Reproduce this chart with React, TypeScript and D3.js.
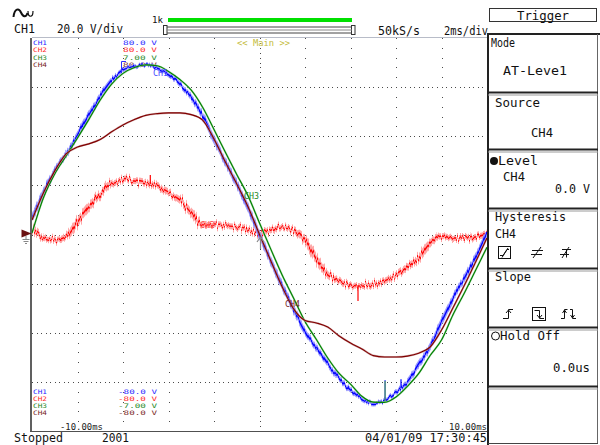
import React from 'react';
import * as d3 from 'd3';

// sample times (ms), 0.5 ms apart, -10 .. 10
const TIME_MS = [-10, -9.5, -9, -8.5, -8, -7.5, -7, -6.5, -6, -5.5, -5, -4.5, -4, -3.5, -3, -2.5, -2, -1.5, -1, -0.5, 0,
  0.5, 1, 1.5, 2, 2.5, 3, 3.5, 4, 4.5, 5, 5.5, 6, 6.5, 7, 7.5, 8, 8.5, 9, 9.5, 10];

// channel readings in volts
const CH1_V = [6.7, 16.9, 25.9, 32.8, 40.5, 48.7, 56.4, 62.9, 67.0, 68.4, 69.0, 67.7, 65.4, 61.2, 55.8, 48.1, 38.5, 29.5, 20.6, 10.8, -0.2,
  -10.8, -21.0, -30.3, -39.3, -46.2, -52.9, -58.7, -63.3, -66.8, -68.8, -67.4, -64.3, -59.9, -53.0, -45.2, -35.6, -26.0, -17.8, -9.2, 0.6];
const CH2_V = [2.6, -1.4, -2.2, -1.0, 5.1, 11.2, 16.5, 21.0, 22.0, 21.8, 21.0, 19.3, 16.9, 14.1, 9.2, 3.9, 3.9, 3.5, 3.1, 1.8, 0.6,
  1.8, 3.1, 1.8, -2.2, -10.0, -16.1, -18.9, -20.6, -21.0, -20.2, -18.9, -16.5, -13.2, -9.6, -3.5, -0.6, -1.4, -1.4, -1.0, 0.2];
const CH3_V = [0.05, 1.30, 2.16, 2.80, 3.44, 4.10, 4.79, 5.36, 5.74, 5.95, 6.04, 6.01, 5.81, 5.52, 5.14, 4.53, 3.74, 2.93, 2.14, 1.37, 0.41,
  -0.53, -1.45, -2.27, -3.10, -3.74, -4.40, -4.95, -5.33, -5.76, -5.97, -5.98, -5.79, -5.41, -4.95, -4.31, -3.76, -2.87, -2.09, -1.27, -0.45];
const CH4_V = [5.9, 16.9, 25.9, 32.8, 35.6, 36.9, 38.7, 41.8, 44.6, 46.8, 48.5, 49.2, 49.5, 49.5, 48.8, 46.6, 38.9, 29.5, 20.6, 11.2, 0,
  -10.8, -21.4, -30.3, -35.0, -36.0, -37.7, -41.3, -44.2, -46.6, -49.3, -49.9, -49.9, -49.5, -48.3, -45.8, -38.9, -29.9, -20.8, -11.2, -1.4];

// glitches: channel index, time ms, base volts, peak volts
const SPIKE_CH = [1, 1, 0, 0, 2];
const SPIKE_T = [-4.8, 4.33, 5.52, 6.22, 5.52];
const SPIKE_FROM = [20.6, -20.8, -67.4, -62.5, -5.98];
const SPIKE_TO = [24.2, -27.1, -59.3, -58.9, -5.22];

const CHANNELS = ['CH1', 'CH2', 'CH3', 'CH4'];
const VOLTS_PER_DIV = [20, 20, 1.75, 20];
const TOP_LIMITS = ['80.0 V', '80.0 V', '7.00 V', '80.0 V'];
const BOTTOM_LIMITS = ['-80.0 V', '-80.0 V', '-7.00 V', '-80.0 V'];
const TIME_LABELS = ['-10.00ms', '10.00ms'];
const TIME_DOMAIN = [-10, 10];
const DIVS_X = 10;
const DIVS_Y = 8;

const COLORS = ['#0000ff', '#ff0000', '#008000', '#800000'];
const HALOS = ['#8a8aff', '#ff8a8a', '#9ad09a', '#c89a9a'];
const LABEL_COLORS = ['#2828ff', '#ff2828', '#1f8a1f', '#7a1f1f'];

const MONO = "'DejaVu Sans Mono', 'Liberation Mono', monospace";

function Txt(p: { x: number; y: number; s: string; size?: number; fill?: string; len?: number; anchor?: string; weight?: any }) {
  return (
    <text x={p.x} y={p.y} fontFamily={MONO} fontSize={p.size ?? 12} fill={p.fill ?? '#111'}
      textAnchor={p.anchor as any} fontWeight={p.weight}
      {...(p.len ? { textLength: p.len, lengthAdjust: 'spacingAndGlyphs' } : {})}>{p.s}</text>
  );
}

export default function App() {
  const W = 600, H = 445;
  const L = 32, R = 487, T = 38, B = 431;
  const x = d3.scaleLinear().domain(TIME_DOMAIN).range([L, R]);
  const yScales = VOLTS_PER_DIV.map(v => d3.scaleLinear().domain([-4 * v, 4 * v]).range([B, T]));
  const series = [CH1_V, CH2_V, CH3_V, CH4_V];
  const paths = series.map((vals, i) =>
    d3.line<number>().x((_, k) => x(TIME_MS[k])).y(d => yScales[i](d)).curve(d3.curveMonotoneX)(vals) as string);

  const dx = (TIME_DOMAIN[1] - TIME_DOMAIN[0]) / DIVS_X;
  const gridX = d3.range(1, DIVS_X).map(i => x(TIME_DOMAIN[0] + dx * i));
  const gridY = d3.range(1, DIVS_Y).map(j => yScales[0](-80 + 20 * j));
  const divW = (R - L) / DIVS_X;
  const divH = (B - T) / DIVS_Y;

  const sepYs = [92.5, 149.5, 208.5, 268.5, 327.5, 386.5];
  const order = [1, 0, 2, 3];
  const haloW = [4, 6, 2, 2];
  const haloOp = [0.85, 0.75, 0.7, 0.8];
  const lineW = [1.4, 1.4, 1.15, 1.1];
  const filt = ['url(#jitBlue)', 'url(#jitRed)', undefined, undefined];
  const small = 6.2;
  const step = 7.3;

  return (
    <svg width={W} height={H} viewBox={`0 0 ${W} ${H}`} style={{ position: 'absolute', left: 0, top: 0, background: '#fff' }}>
      <defs>
        <clipPath id="plotClip"><rect x={L} y={T} width={R - L} height={B - T} /></clipPath>
        <filter id="jitRed" x="-0.02" y="-0.3" width="1.04" height="1.6" colorInterpolationFilters="sRGB">
          <feTurbulence type="fractalNoise" baseFrequency="0.75 0.004" numOctaves={2} seed={4} result="n" />
          <feColorMatrix in="n" type="matrix" values="0 0 0 0 0.5  0 1 0 0 0  0 0 0 0 0  0 0 0 0 1" result="m" />
          <feDisplacementMap in="SourceGraphic" in2="m" scale={14} xChannelSelector="R" yChannelSelector="G" />
        </filter>
        <filter id="jitBlue" x="-0.02" y="-0.1" width="1.04" height="1.2" colorInterpolationFilters="sRGB">
          <feTurbulence type="fractalNoise" baseFrequency="0.6 0.004" numOctaves={2} seed={9} result="n" />
          <feColorMatrix in="n" type="matrix" values="0 0 0 0 0.5  0 1 0 0 0  0 0 0 0 0  0 0 0 0 1" result="m" />
          <feDisplacementMap in="SourceGraphic" in2="m" scale={6} xChannelSelector="R" yChannelSelector="G" />
        </filter>
      </defs>
      <rect x={0} y={0} width={W} height={H} fill="#fff" />

      {/* top header */}
      <path d="M13.5,17 C14.5,8 19,8 21,12.5 C23,17 26,18 27.5,13" fill="none" stroke="#111" strokeWidth={2} />
      <path d="M28,11 C28,18 33,18 33,11" fill="none" stroke="#111" strokeWidth={1.2} />
      <Txt x={14} y={33} s="CH1" size={13} len={21} />
      <Txt x={57} y={33} s="20.0 V/div" size={12} len={66} />
      <Txt x={152} y={23} s="1k" size={9} len={11} />
      <rect x={168} y={18} width={184} height={4} fill="#00e000" />
      <rect x={163.5} y={25.5} width={3.5} height={9} fill="none" stroke="#333" />
      <rect x={351.5} y={25.5} width={3.5} height={9} fill="none" stroke="#333" />
      <line x1={167} x2={352} y1={27} y2={27} stroke="#444" />
      <line x1={167} x2={352} y1={30} y2={30} stroke="#888" />
      <line x1={167} x2={352} y1={33} y2={33} stroke="#444" />
      <Txt x={378} y={35} s="50kS/s" size={12} len={42} />
      <Txt x={444} y={35} s="2ms/div" size={12} len={44} />

      {/* plot frame */}
      <line x1={L} x2={R} y1={T - 0.5} y2={T - 0.5} stroke="#b8bcc8" />
      <line x1={L - 1} x2={L - 1} y1={T} y2={B} stroke="#606060" strokeWidth={2} />
      <line x1={L - 2} x2={R} y1={B + 0.5} y2={B + 0.5} stroke="#505050" />

      {/* grid */}
      <g shapeRendering="crispEdges" stroke="#4a4a4a">
        {gridY.map((gy, j) => (
          <line key={'h' + j} x1={L} x2={R} y1={Math.round(gy) + 0.5} y2={Math.round(gy) + 0.5}
            strokeDasharray={`1 ${divW / 10 - 1}`} />
        ))}
        {gridX.map((gx, i) => (
          <line key={'v' + i} x1={Math.round(gx) + 0.5} x2={Math.round(gx) + 0.5} y1={T} y2={B}
            strokeDasharray={i === 4 ? `1 ${divH / 10 - 1}` : `1 ${divH / 5 - 1}`} />
        ))}
      </g>

      {/* channel offset labels */}
      {CHANNELS.map((c, i) => (
        <g key={'lbl' + i}>
          <Txt x={33} y={45 + i * step} s={c} size={small} fill={LABEL_COLORS[i]} len={14} />
          <Txt x={123} y={45 + i * step} s={TOP_LIMITS[i]} size={small} fill={LABEL_COLORS[i]} len={34} />
          <Txt x={33} y={393.5 + i * step} s={c} size={small} fill={LABEL_COLORS[i]} len={14} />
          <Txt x={118} y={393.5 + i * step} s={BOTTOM_LIMITS[i]} size={small} fill={LABEL_COLORS[i]} len={39} />
        </g>
      ))}
      <Txt x={237} y={45.6} s="<< Main >>" size={9} fill="#c4bc3c" len={53} />
      <Txt x={60} y={430} s={TIME_LABELS[0]} size={8.5} fill="#222" len={43} />
      <Txt x={449} y={430} s={TIME_LABELS[1]} size={8.5} fill="#222" len={38} />

      {/* traces */}
      <g clipPath="url(#plotClip)" fill="none" strokeLinejoin="round">
        {order.map(i => (
          <g key={'tr' + i}>
            <path d={paths[i]} stroke={HALOS[i]} strokeWidth={haloW[i]} opacity={haloOp[i]} filter={filt[i]} />
            <path d={paths[i]} stroke={COLORS[i]} strokeWidth={lineW[i]} filter={filt[i]} />
          </g>
        ))}
        {SPIKE_CH.map((c, k) => (
          <line key={'sp' + k} x1={x(SPIKE_T[k])} x2={x(SPIKE_T[k])} y1={yScales[c](SPIKE_FROM[k])} y2={yScales[c](SPIKE_TO[k])}
            stroke={c === 2 ? '#60b060' : COLORS[c]} strokeWidth={1.2} />
        ))}
      </g>

      {/* trace markers */}
      <Txt x={153} y={76} s="CH1" size={9} fill="#4848ff" len={15} />
      <Txt x={200} y={228} s="CH2" size={9} fill="#ff5050" len={15} />
      <Txt x={244} y={199} s="CH3" size={9} fill="#1f8a1f" len={15} />
      <Txt x={285} y={307} s="CH4" size={9} fill="#7a1f1f" len={15} />
      <path d="M126,61.5 L121.5,61.5 L121.5,72" fill="none" stroke="#3030ff" />
      <path d="M257,242 L260.5,237 L264,242 M260.5,237 L260.5,249" fill="none" stroke="#888" strokeWidth={1.2} />
      <path d="M21.5,229.5 L31.5,233.5 L21.5,237.5 Z" fill="#6a1010" />
      <path d="M26,236 L26,239 M22.5,239.5 L29.5,239.5 M23.5,241.5 L28.5,241.5 M25,243.5 L27,243.5" stroke="#888" />

      {/* status line */}
      <Txt x={14} y={442} s="Stopped" size={12} len={49} />
      <Txt x={102} y={442} s="2001" size={12} len={27} />
      <Txt x={365} y={442} s="04/01/09 17:30:45" size={12} len={122} />

      {/* right panel */}
      <rect x={489.5} y={8.5} width={107} height={13} fill="none" stroke="#333" />
      <Txt x={517} y={19.5} s="Trigger" size={12} len={52} />
      <line x1={488} x2={600} y1={34} y2={34} stroke="#222" strokeWidth={2} />
      <line x1={488} x2={488} y1={33} y2={445} stroke="#222" strokeWidth={2} />
      <line x1={597.5} x2={597.5} y1={34} y2={444} stroke="#666" />
      <line x1={488} x2={598} y1={443.5} y2={443.5} stroke="#444" />
      {sepYs.map((sy, k) => (
        <g key={'sep' + k}>
          <line x1={488} x2={598} y1={sy} y2={sy} stroke="#222" strokeWidth={2} />
          <line x1={488} x2={598} y1={sy + 2.5} y2={sy + 2.5} stroke="#9a9a9a" />
        </g>
      ))}
      <Txt x={491} y={47} s="Mode" size={12} len={24} />
      <Txt x={503} y={75} s="AT-Leve1" size={12} len={64} />
      <Txt x={495} y={107} s="Source" size={12} len={45} />
      <Txt x={531} y={137} s="CH4" size={12} len={22} />
      <circle cx={494} cy={161} r={4} fill="#111" />
      <Txt x={498} y={165} s="Level" size={12} len={40} />
      <Txt x={503} y={181} s="CH4" size={12} len={22} />
      <Txt x={555} y={193} s="0.0 V" size={12} len={35} />
      <Txt x={495} y={221} s="Hysteresis" size={12} len={71} />
      <Txt x={495} y={238} s="CH4" size={12} len={21} />
      {/* hysteresis icons */}
      <rect x={498.5} y={246.5} width={12} height={12} fill="none" stroke="#111" />
      <path d="M500,255.5 L503,255.5 L507,249.5 L509,249.5 M502,257.5 L508,248" fill="none" stroke="#111" />
      <path d="M532,250.5 L543,250.5 M531,254.5 L542,254.5 M533,258 L541,247" fill="none" stroke="#111" />
      <path d="M562,249.5 L571,249.5 M560,254.5 L569,254.5 M562,258 L569,247 M566.5,249.5 L566.5,257.5" fill="none" stroke="#111" />
      <Txt x={495} y={281} s="Slope" size={12} len={36} />
      {/* slope icons */}
      <path d="M503,318.5 L508.5,318.5 L508.5,309.5 L513,309.5 M506,313 L508.5,310 L511,313" fill="none" stroke="#111" />
      <rect x={532.5} y={307.5} width={13} height={13} fill="none" stroke="#111" />
      <path d="M534.5,310.5 L539.5,310.5 L539.5,318.5 L544,318.5 M537,315 L539.5,318 L542,315" fill="none" stroke="#111" />
      <path d="M561,318.5 L564.5,318.5 L564.5,309.5 L567.5,309.5 M562.5,313 L564.5,310 L566.5,313 M570,309.5 L572.5,309.5 L572.5,318.5 L576,318.5 M570.5,315 L572.5,318 L574.5,315" fill="none" stroke="#111" />
      <circle cx={495.5} cy={336} r={4} fill="none" stroke="#111" />
      <Txt x={500} y={340} s="Hold Off" size={12} len={60} />
      <Txt x={553} y={372} s="0.0us" size={12} len={37} />
    </svg>
  );
}
